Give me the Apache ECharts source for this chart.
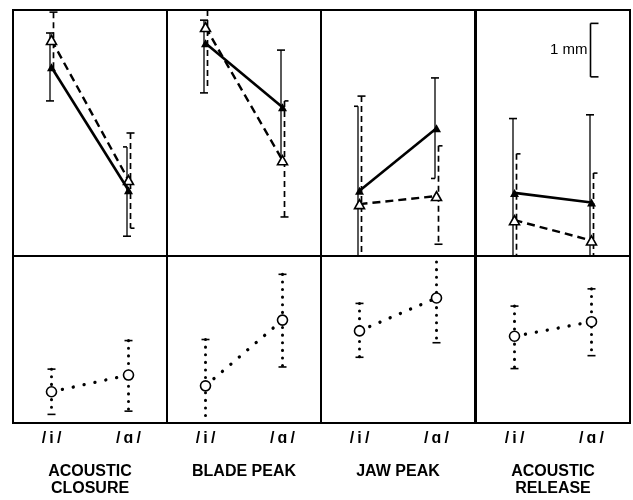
<!DOCTYPE html>
<html>
<head>
<meta charset="utf-8">
<script src="https://cdn.jsdelivr.net/npm/echarts@6/dist/echarts.min.js"></script>
<style>
  html, body { margin: 0; padding: 0; background: #fff; }
  #chart { width: 633px; height: 500px; }
</style>
</head>
<body>
<div id="chart"></div>
<script>
// categories
const groups = ["ACOUSTIC\nCLOSURE", "BLADE PEAK", "JAW PEAK", "ACOUSTIC\nRELEASE"];
const vowels = ["/i/", "/ɑ/"];

// top panels, values in mm, one [i, a] pair per group
const solidMean = [[3.53, 1.23], [3.98, 2.78], [1.22, 2.39], [1.18, 1.00]];
const solidLow = [[2.90, 0.37], [3.05, 1.70], [-0.6, 1.45], [-0.6, -0.6]];
const solidHigh = [[4.17, 2.04], [4.41, 3.85], [2.80, 3.33], [2.57, 2.64]];
const dashedMean = [[4.04, 1.42], [4.28, 1.79], [0.97, 1.12], [0.67, 0.29]];
const dashedLow = [[3.51, 0.52], [3.14, 0.73], [-0.6, 0.22], [-0.6, -0.6]];
const dashedHigh = [[4.56, 2.30], [4.90, 2.90], [2.99, 2.06], [1.91, 1.55]];

// bottom panels
const dotMean = [[0.58, 0.89], [0.69, 1.91], [1.71, 2.32], [1.61, 1.88]];
const dotLow = [[0.16, 0.22], [-0.6, 1.04], [1.22, 1.49], [1.01, 1.25]];
const dotHigh = [[1.00, 1.53], [1.55, 2.76], [2.22, 2.99], [2.17, 2.49]];

// cap shape at [top, bottom] of each error bar
const solidCaps = [
    [["full", "full"], ["left", "full"]],
    [["full", "full"], ["full", "none"]],
    [["left", "none"], ["full", "left"]],
    [["full", "none"], ["full", "none"]]
];
const dashedCaps = [
    [["full", "none"], ["full", "right"]],
    [["none", "none"], ["right", "full"]],
    [["full", "none"], ["right", "full"]],
    [["right", "none"], ["right", "none"]]
];
const dotCaps = [
    [["full", "full"], ["full", "full"]],
    [["full", "none"], ["full", "full"]],
    [["full", "full"], ["none", "full"]],
    [["full", "full"], ["full", "full"]]
];

// scale bar (mm) in the last top panel
const scaleBar = [3.35, 4.35];

const TOP_MAX = 4.6;
const BOTTOM_MAX = 3.1;
const panelLefts = [13, 167, 321, 476];
const panelWidth = 154;
const FONT = "Liberation Sans";

function capLine(x, y, kind, w) {
    if (kind === "none") return null;
    const x1 = kind === "right" ? x : x - w;
    const x2 = kind === "left" ? x : x + w;
    return {
        type: "line",
        shape: { x1: x1, y1: y, x2: x2, y2: y },
        style: { stroke: "#000", lineWidth: 1.6 }
    };
}

// draws vertical error bars, clipped to the panel
function errorBars(caps, offset, barStyle) {
    return function (params, api) {
        const cat = api.value(0);
        const cs = params.coordSys;
        const x = api.coord([cat, 0])[0] + offset;
        let yHi = api.coord([cat, api.value(2)])[1];
        let yLo = api.coord([cat, api.value(1)])[1];
        const c = caps[params.dataIndex];
        const topKind = yHi >= cs.y ? c[0] : "none";
        const botKind = yLo <= cs.y + cs.height ? c[1] : "none";
        yHi = Math.max(yHi, cs.y);
        yLo = Math.min(yLo, cs.y + cs.height);
        const children = [{
            type: "line",
            shape: { x1: x, y1: yHi, x2: x, y2: yLo },
            style: Object.assign({ stroke: "#000" }, barStyle)
        }];
        const t = capLine(x, yHi, topKind, 4);
        const b = capLine(x, yLo, botKind, 4);
        if (t) children.push(t);
        if (b) children.push(b);
        return { type: "group", children: children };
    };
}

const grids = [], xAxes = [], yAxes = [], series = [];

groups.forEach(function (name, g) {
    grids.push({ left: panelLefts[g], top: 10, width: panelWidth, height: 246,
        show: true, borderColor: "#000", borderWidth: 2, backgroundColor: "transparent" });
    xAxes.push({ type: "category", gridIndex: g, data: vowels, boundaryGap: true,
        axisLine: { show: false }, axisTick: { show: false }, axisLabel: { show: false },
        splitLine: { show: false } });
    yAxes.push({ type: "value", gridIndex: g, min: 0, max: TOP_MAX, show: false });
});

groups.forEach(function (name, g) {
    grids.push({ left: panelLefts[g], top: 256, width: panelWidth, height: 167,
        show: true, borderColor: "#000", borderWidth: 2, backgroundColor: "transparent" });
    xAxes.push({ type: "category", gridIndex: 4 + g, data: vowels, boundaryGap: true,
        axisLine: { show: false }, axisTick: { show: false }, splitLine: { show: false },
        axisLabel: { show: true, color: "#000", fontSize: 16, fontWeight: "bold", fontFamily: FONT, margin: 8,
            formatter: function (v) { return v.split("").join("\u2009"); } },
        name: name, nameLocation: "middle", nameGap: 40,
        nameTextStyle: { color: "#000", fontSize: 16, fontWeight: "bold", fontFamily: FONT,
            lineHeight: 17, verticalAlign: "top" } });
    yAxes.push({ type: "value", gridIndex: 4 + g, min: 0, max: BOTTOM_MAX, show: false });
});

groups.forEach(function (name, g) {
    series.push({
        type: "custom", xAxisIndex: g, yAxisIndex: g, z: 2,
        renderItem: errorBars(solidCaps[g], -1.5, { lineWidth: 1.3 }),
        data: [[0, solidLow[g][0], solidHigh[g][0]], [1, solidLow[g][1], solidHigh[g][1]]]
    });
    series.push({
        type: "custom", xAxisIndex: g, yAxisIndex: g, z: 2,
        renderItem: errorBars(dashedCaps[g], 2, { lineWidth: 1.7, lineDash: [6, 4] }),
        data: [[0, dashedLow[g][0], dashedHigh[g][0]], [1, dashedLow[g][1], dashedHigh[g][1]]]
    });
    series.push({
        type: "line", xAxisIndex: g, yAxisIndex: g, z: 3,
        data: dashedMean[g],
        symbol: "triangle", symbolSize: [10, 9],
        itemStyle: { color: "#fff", borderColor: "#000", borderWidth: 1.6 },
        lineStyle: { color: "#000", width: 2.4, type: [8, 5] }
    });
    series.push({
        type: "line", xAxisIndex: g, yAxisIndex: g, z: 4,
        data: solidMean[g],
        symbol: "triangle", symbolSize: [9, 8],
        itemStyle: { color: "#000" },
        lineStyle: { color: "#000", width: 2.6 }
    });
    series.push({
        type: "custom", xAxisIndex: 4 + g, yAxisIndex: 4 + g, z: 2,
        renderItem: errorBars(dotCaps[g], 0, { lineWidth: 3, lineDash: [0.1, 7.5], lineCap: "round" }),
        data: [[0, dotLow[g][0], dotHigh[g][0]], [1, dotLow[g][1], dotHigh[g][1]]]
    });
    series.push({
        type: "line", xAxisIndex: 4 + g, yAxisIndex: 4 + g, z: 3,
        data: dotMean[g],
        symbol: "circle", symbolSize: 10,
        itemStyle: { color: "#fff", borderColor: "#000", borderWidth: 1.6 },
        lineStyle: { color: "#000", width: 3.3, type: [0.1, 11], cap: "round" }
    });
});

// 1 mm scale bar
series.push({
    type: "custom", xAxisIndex: 3, yAxisIndex: 3, z: 5,
    renderItem: function (params, api) {
        const x = api.coord([1, 0])[0] - 1;
        const y1 = api.coord([1, api.value(1)])[1];
        const y0 = api.coord([1, api.value(0)])[1];
        const st = { stroke: "#000", lineWidth: 1.6 };
        return {
            type: "group",
            children: [
                { type: "line", shape: { x1: x, y1: y1, x2: x, y2: y0 }, style: st },
                { type: "line", shape: { x1: x, y1: y1, x2: x + 8, y2: y1 }, style: st },
                { type: "line", shape: { x1: x, y1: y0, x2: x + 8, y2: y0 }, style: st },
                { type: "text", x: x - 3, y: (y0 + y1) / 2,
                  style: { text: "1 mm", fill: "#000", fontSize: 15, fontFamily: FONT,
                           align: "right", verticalAlign: "middle" } }
            ]
        };
    },
    data: [scaleBar]
});

const chart = echarts.init(document.getElementById("chart"));
chart.setOption({
    animation: false,
    backgroundColor: "#fff",
    grid: grids,
    xAxis: xAxes,
    yAxis: yAxes,
    series: series
});
</script>
</body>
</html>
